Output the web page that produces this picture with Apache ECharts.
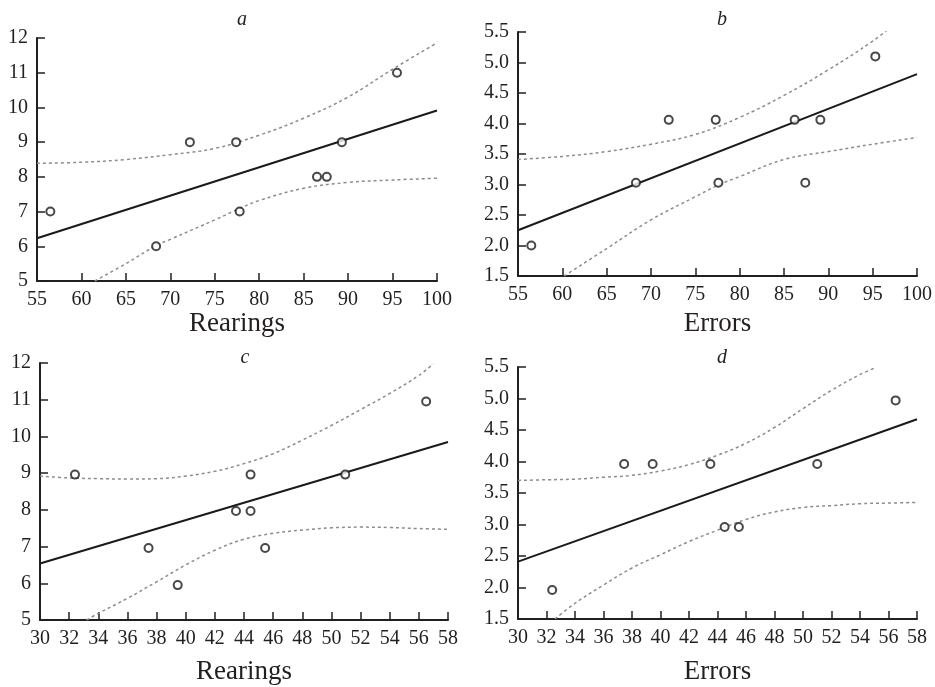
<!DOCTYPE html>
<html><head><meta charset="utf-8">
<script src="https://cdn.jsdelivr.net/npm/echarts@6/dist/echarts.min.js"></script>
<style>html,body{margin:0;padding:0;background:#fff}#c{width:935px;height:687px}</style>
</head><body><div id="c"></div>
<script>
// Panel a: Rearings (x) vs y
const aX = [56.5, 68.4, 72.2, 77.4, 77.8, 86.5, 87.6, 89.3, 95.5];
const aY = [7, 6, 9, 9, 7, 8, 8, 9, 11];
const aFitX = [55, 100];
const aFitY = [6.23, 9.91];
const aUpX = [55, 60, 65, 70, 75, 80, 85, 90, 95, 100];
const aUpY = [8.39, 8.42, 8.5, 8.64, 8.82, 9.2, 9.69, 10.3, 11.1, 11.86];
const aLoX = [61.5, 65, 68.4, 70, 75, 77.8, 80, 85, 90, 95, 100];
const aLoY = [5.0, 5.5, 6.02, 6.2, 6.76, 7.09, 7.32, 7.67, 7.84, 7.91, 7.96];

// Panel b: Errors (x) vs y
const bX = [56.5, 68.3, 72.0, 77.3, 77.6, 86.2, 87.4, 89.1, 95.3];
const bY = [2.0, 3.03, 4.06, 4.06, 3.03, 4.06, 3.03, 4.06, 5.1];
const bFitX = [55, 100];
const bFitY = [2.25, 4.81];
const bUpX = [55, 60, 65, 70, 75, 80, 85, 90, 95, 97.5];
const bUpY = [3.41, 3.46, 3.54, 3.66, 3.82, 4.1, 4.46, 4.88, 5.35, 5.63];
const bLoX = [60.2, 65, 70, 75, 77.6, 80, 85, 90, 95, 100];
const bLoY = [1.5, 1.95, 2.42, 2.8, 2.99, 3.13, 3.41, 3.54, 3.66, 3.77];

// Panel c: Rearings (x) vs y
const cX = [32.4, 37.45, 39.45, 43.45, 44.45, 44.45, 45.45, 50.95, 56.5];
const cY = [8.96, 6.96, 5.95, 7.97, 7.97, 8.96, 6.96, 8.96, 10.95];
const cFitX = [30, 58];
const cFitY = [6.54, 9.85];
const cUpX = [30, 32, 34, 36, 38, 40, 42, 44, 46, 48, 50, 52, 54, 56, 57];
const cUpY = [8.92, 8.87, 8.85, 8.84, 8.85, 8.92, 9.05, 9.26, 9.53, 9.9, 10.3, 10.73, 11.17, 11.66, 11.98];
const cLoX = [33.2, 34, 36, 38, 40, 42, 44, 46, 48, 50, 52, 54, 56, 58];
const cLoY = [5.0, 5.18, 5.59, 6.04, 6.5, 6.9, 7.2, 7.36, 7.45, 7.51, 7.53, 7.52, 7.49, 7.47];

// Panel d: Errors (x) vs y
const dX = [32.4, 37.45, 39.45, 43.5, 44.5, 45.5, 51.0, 56.5];
const dY = [1.96, 3.96, 3.96, 3.96, 2.96, 2.96, 3.96, 4.97];
const dFitX = [30, 58];
const dFitY = [2.41, 4.67];
const dUpX = [30, 32, 34, 36, 38, 40, 42, 44, 46, 48, 50, 52, 54, 55];
const dUpY = [3.7, 3.71, 3.72, 3.75, 3.78, 3.85, 3.95, 4.1, 4.29, 4.54, 4.84, 5.13, 5.38, 5.48];
const dLoX = [32.6, 34, 36, 38, 40, 42, 44, 46, 48, 50, 52, 54, 56, 58];
const dLoY = [1.5, 1.75, 2.04, 2.31, 2.52, 2.73, 2.91, 3.08, 3.2, 3.27, 3.3, 3.33, 3.34, 3.35];

const panelTitles = ['a', 'b', 'c', 'd'];
const xNames = ['Rearings', 'Errors', 'Rearings', 'Errors'];

const zip = (xs, ys) => xs.map((x, i) => [x, ys[i]]);
const FONT = '"Liberation Serif", "Times New Roman", serif';
const INK = '#231f20';

const grids = [
  {left: 37, top: 38, width: 400, height: 243, outerBoundsMode: 'none', containLabel: false},
  {left: 518, top: 32, width: 399, height: 244, outerBoundsMode: 'none', containLabel: false},
  {left: 40, top: 363, width: 408, height: 257, outerBoundsMode: 'none', containLabel: false},
  {left: 518, top: 367, width: 399, height: 252, outerBoundsMode: 'none', containLabel: false}
];
const xRanges = [[55, 100, 5], [55, 100, 5], [30, 58, 2], [30, 58, 2]];
const yRanges = [[5, 12, 1, 0], [1.5, 5.5, 0.5, 1], [5, 12, 1, 0], [1.5, 5.5, 0.5, 1]];
const nameGaps = [42.5, 47.5, 52, 53];

const axisCommon = {
  axisLine: {show: true, onZero: false, lineStyle: {color: INK, width: 2}},
  axisTick: {show: true, inside: true, length: 8, lineStyle: {color: INK, width: 1.5}},
  splitLine: {show: false}
};

const xAxis = xRanges.map((r, i) => Object.assign({}, axisCommon, {
  type: 'value', gridIndex: i, min: r[0], max: r[1], interval: r[2],
  name: xNames[i], nameLocation: 'middle', nameGap: nameGaps[i],
  nameTextStyle: {fontFamily: FONT, fontSize: 27, color: INK, verticalAlign: 'middle'},
  axisLabel: {fontFamily: FONT, fontSize: 20, color: INK, margin: 9}
}));
const yAxis = yRanges.map((r, i) => Object.assign({}, axisCommon, {
  type: 'value', gridIndex: i, min: r[0], max: r[1], interval: r[2],
  axisLabel: {fontFamily: FONT, fontSize: 20, color: INK, margin: 9,
    formatter: v => v.toFixed(r[3])}
}));

const sets = [
  [aX, aY, aFitX, aFitY, aUpX, aUpY, aLoX, aLoY],
  [bX, bY, bFitX, bFitY, bUpX, bUpY, bLoX, bLoY],
  [cX, cY, cFitX, cFitY, cUpX, cUpY, cLoX, cLoY],
  [dX, dY, dFitX, dFitY, dUpX, dUpY, dLoX, dLoY]
];
const series = [];
sets.forEach((s, i) => {
  const ci = {color: '#8c8c8c', width: 1.5, type: [3, 3]};
  series.push({type: 'line', xAxisIndex: i, yAxisIndex: i, data: zip(s[4], s[5]), smooth: 0.4,
    showSymbol: false, lineStyle: ci, silent: true, z: 2});
  series.push({type: 'line', xAxisIndex: i, yAxisIndex: i, data: zip(s[6], s[7]), smooth: 0.4,
    showSymbol: false, lineStyle: ci, silent: true, z: 2});
  series.push({type: 'line', xAxisIndex: i, yAxisIndex: i, data: zip(s[2], s[3]),
    showSymbol: false, lineStyle: {color: '#1a1a1a', width: 2}, silent: true, z: 3});
  series.push({type: 'scatter', xAxisIndex: i, yAxisIndex: i, data: zip(s[0], s[1]),
    symbol: 'circle', symbolSize: 8,
    itemStyle: {color: '#ffffff', borderColor: '#1a1a1a', borderWidth: 2}, z: 4});
});

const titlePos = [[237, 15], [717, 15], [240, 353], [717, 353]];
const title = panelTitles.map((t, i) => ({
  text: t, left: titlePos[i][0], top: titlePos[i][1], textAlign: 'center', textVerticalAlign: 'middle',
  textStyle: {fontFamily: FONT, fontStyle: 'italic', fontWeight: 'normal', fontSize: 20, color: INK}
}));

const chart = echarts.init(document.getElementById('c'));
chart.setOption({
  animation: false,
  backgroundColor: '#ffffff',
  title: title,
  grid: grids,
  xAxis: xAxis,
  yAxis: yAxis,
  series: series
});
</script></body></html>
